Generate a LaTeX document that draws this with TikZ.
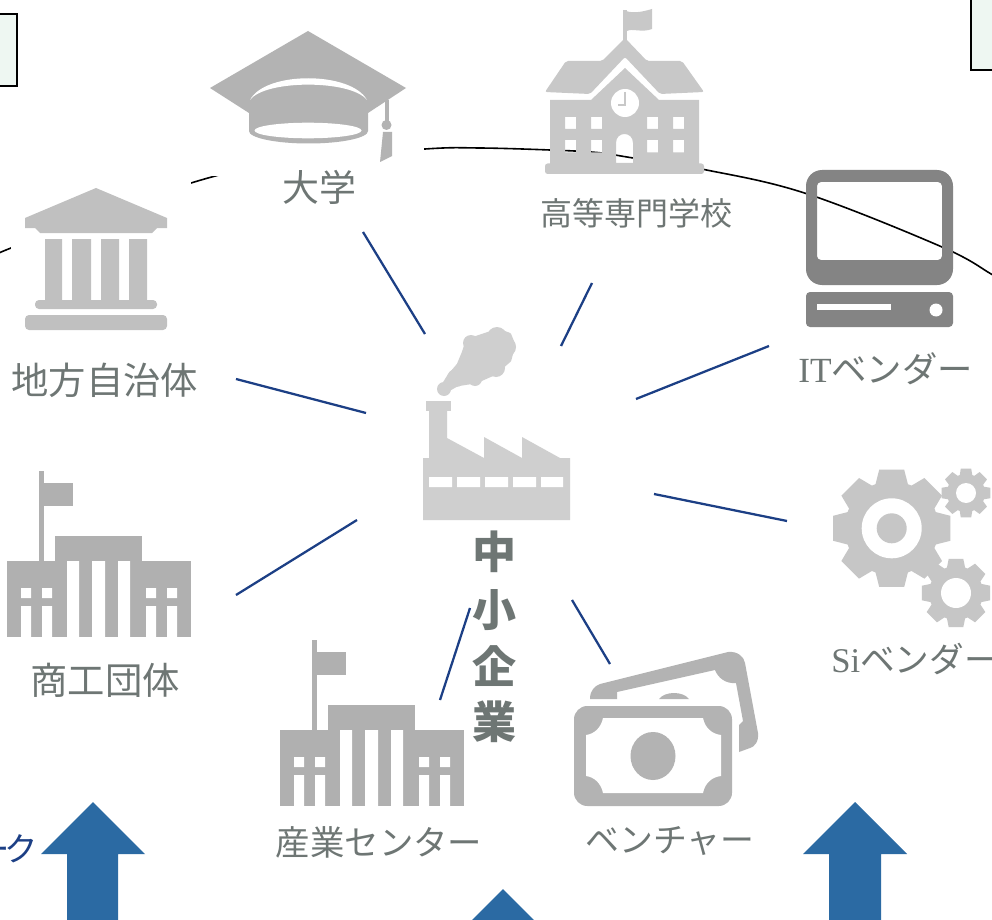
\documentclass[tikz,border=0pt]{standalone}
\usepackage{fontspec}
\newfontfamily\jp{Noto Sans CJK JP}
\newfontfamily\lat{Liberation Serif}
\definecolor{lbl}{HTML}{6E7674}
\definecolor{navy}{HTML}{1C3F85}
\definecolor{arrowblue}{HTML}{2B6AA3}
\definecolor{boxgreen}{HTML}{EEF7F2}
\definecolor{capgrey}{HTML}{B3B3B3}
\definecolor{bankgrey}{HTML}{C0C0C0}
\definecolor{schoolgrey}{HTML}{C8C8C8}
\definecolor{pcgrey}{HTML}{848484}
\definecolor{factgrey}{HTML}{CFCFCF}
\definecolor{geargrey}{HTML}{C6C6C6}
\definecolor{bldgrey}{HTML}{B0B0B0}
\newcommand{\pxfont}[1]{\jp\fontsize{#1}{#1}\selectfont}
\tikzset{
  lab/.style={text=lbl,inner sep=0pt,font=\pxfont{#1}},
  link/.style={draw=navy,line width=1.7pt},
  arc line/.style={draw=black,line width=1.2pt},
  upblock/.style={fill=arrowblue},
  cornerbox/.style={draw=black,fill=boxgreen,line width=1pt},
  mask/.style={fill=white}
}
\newcommand{\gearicon}[6]{%
 \begin{scope}[shift={(#1,#2)}]
  \fill[geargrey] (0,0) circle[radius=#3];
  \foreach \a in {0,45,...,315}
    \fill[geargrey] (\a-21:#3-1) -- (\a-12:#4) -- (\a+12:#4) -- (\a+21:#3-1) -- cycle;
  \fill[white] (0,0) circle[radius=#5];
  #6
 \end{scope}}
\newcommand{\civicicon}{%
  \fill[bldgrey] (39,471) rectangle (44,561);
  \fill[bldgrey] (44,483) rectangle (73,506);
  \fill[bldgrey] (55,536) rectangle (142,561);
  \fill[bldgrey] (7,561) rectangle (191,637);
  \fill[white] (67,561) rectangle (79,637) (92,561) rectangle (105,637) (118,561) rectangle (130,637);
  \fill[white] (21,588) rectangle (31,598) (42,588) rectangle (52,598) (146,588) rectangle (156,598) (167,588) rectangle (177,598);
  \fill[white] (21,606) rectangle (31,637) (42,606) rectangle (52,637) (146,606) rectangle (156,637) (167,606) rectangle (177,637);
}
\begin{document}
\begin{tikzpicture}[x=0.75pt,y=-0.75pt]
\useasboundingbox (0,0) rectangle (992,920);
\clip (0,0) rectangle (992,920);
\fill[white] (0,0) rectangle (992,920);

% corner boxes
\draw[cornerbox] (-5,14) rectangle (17,86);
\draw[cornerbox] (971,-5) rectangle (997,70);

% large arc
\draw[arc line] plot[smooth,tension=0.6] coordinates {(-12,262) (11,248) (191,183) (300,160) (425,149) (480,148) (550,150) (597,152.5) (630,157.5) (704,169.5) (806,193.5) (942,247) (992,274.5) (1010,285)};
\fill[mask] (11,180) rectangle (191,340);
\fill[mask] (197,14) rectangle (424,176);

% university cap
\fill[capgrey] (308,31) -- (406,88) -- (368,113) -- (368,131) arc[start angle=0,end angle=180,x radius=59.5,y radius=12.5] -- (249,113) -- (210,88) -- cycle;
\fill[white] (250,100) .. controls (265,71) and (351,71) .. (367,100) .. controls (351,79.5) and (265,79.5) .. (250,100) -- cycle;
\fill[white] (308,130.5) ellipse[x radius=53.5,y radius=7.8];
\fill[capgrey] (385,100) rectangle (389,125);
\fill[capgrey] (386.5,125) circle[radius=5];
\fill[capgrey] (383,132) -- (392,132) -- (392,156) -- (380,162) -- cycle;

% bank
\fill[bankgrey] (96,188) -- (167,218) -- (167,228) -- (157,228) -- (152,233) -- (40,233) -- (35,228) -- (25,228) -- (25,218) -- cycle;
\fill[bankgrey] (45,239) rectangle (62,300) (72,239) rectangle (91,300) (101,239) rectangle (119,300) (129,239) rectangle (147,300);
\fill[bankgrey,rounded corners=3] (35,300) rectangle (157,309);
\fill[bankgrey,rounded corners=3] (25,315) rectangle (167,330);

% school
\fill[schoolgrey] (623,10) rectangle (627,40);
\fill[schoolgrey] (623,10) .. controls (632,14) and (642,12) .. (652,9) -- (652,29) .. controls (642,33) and (632,28) .. (627,31) -- cycle;
\fill[schoolgrey,rounded corners=1.5] (625,38) -- (647,61) -- (682,61) -- (704,92) -- (660,94) -- (625,57) -- (590,94) -- (545,92) -- (566,61) -- (602,61) -- cycle;
\fill[schoolgrey,even odd rule] (625,68) -- (659,100) -- (699,100) -- (699,165) -- (550,165) -- (550,100) -- (591,100) -- cycle
  (565,117) rectangle (576,129) (591,117) rectangle (602,129) (647,117) rectangle (658,129) (673,117) rectangle (684,129)
  (565,140) rectangle (576,152.5) (591,140) rectangle (602,152.5) (647,140) rectangle (658,152.5) (673,140) rectangle (684,152.5)
  (616,163) -- (616,143) .. controls (616,131) and (633,131) .. (633,143) -- (633,163) -- cycle;
\fill[white] (625,103) circle[radius=14];
\draw[schoolgrey,line width=2pt] (625,92) -- (625,105) -- (618,105);
\fill[schoolgrey,rounded corners=2] (545,163.5) rectangle (704,174);

% computer
\fill[pcgrey,even odd rule] [rounded corners=12] (806,170) rectangle (953,285) [rounded corners=3] (817,182) rectangle (942,260);
\fill[pcgrey,rounded corners=3] (806,292) rectangle (953,327);
\fill[white] (817,304) rectangle (891,310);
\fill[white] (936,310) circle[radius=6.5];

% factory
\fill[factgrey] (426,401) rectangle (451,411);
\fill[factgrey] (429,411) -- (447,411) -- (447,438) -- (484,458) -- (484,437) -- (522,458) -- (522,437) -- (560,458) -- (570,458) -- (570,520) -- (423,520) -- (423,458) -- (429,458) -- cycle;
\fill[white] (429,477) rectangle (452,487) (457,477) rectangle (480,487) (485,477) rectangle (508,487) (513,477) rectangle (536,487) (541,477) rectangle (563,487);
\filldraw[draw=factgrey,fill=factgrey,line width=3.5pt,line join=round] (441,390) -- (449,377) -- (459,365) -- (464,353) -- (468,341) -- (483,336) -- (498,331) -- (509,335) -- (513,345) -- (509,360) -- (494,373) -- (476,381) -- (457,384) -- (443,392) -- cycle;
\fill[factgrey] (444,389) circle[radius=7] (456,378) circle[radius=9] (471,343) circle[radius=8] (497,337) circle[radius=10] (506,347) circle[radius=10] (496,368) circle[radius=9] (475,379) circle[radius=7];

% gears
\gearicon{891.7}{528.3}{47}{60}{30}{\fill[geargrey] (0,0) circle[radius=15];}
\gearicon{966}{493}{19}{25}{10}{}
\gearicon{956}{593}{27}{35}{15}{}

% civic buildings
\civicicon
\begin{scope}[shift={(273,169)}]\civicicon\end{scope}

% money
\fill[capgrey] (590,699) .. controls (590,690) and (595,686) .. (600,684) -- (728,652) .. controls (738,651) and (744,657) .. (745,663) -- (758,733) .. controls (759,742) and (754,747) .. (750,748) -- (739,752) -- (739,725) -- (743,721) -- (736,683) .. controls (726,684) and (718,678) .. (715,670) -- (617,692) -- (617,699) -- cycle;
\fill[capgrey] (659,699) .. controls (665,691) and (683,691) .. (689,699) -- cycle;
\fill[capgrey,rounded corners=10] (574,706) rectangle (732,806);
\fill[white] (603,718) -- (703,718) .. controls (705,728) and (712,734) .. (721,735) -- (721,776) .. controls (712,777) and (705,783) .. (703,793) -- (603,793) .. controls (601,783) and (594,777) .. (586,776) -- (586,735) .. controls (594,734) and (601,728) .. (603,718) -- cycle;
\fill[capgrey] (653,756) ellipse[x radius=22.5,y radius=24];

% labels
\node[lab=27.7] (univ) at (319.5,187) {大学};
\node[lab=28] (local) at (105,380) {地方自治体};
\node[lab=24] (kosen) at (636,213) {高等専門学校};
\node[lab=26.5,anchor=west] (it) at (798,369) {{\lat IT}ベンダー};
\node[lab=26,anchor=west] (si) at (831,659) {{\lat Si}ベンダー};
\node[lab=28] (shoko) at (105,680) {商工団体};
\node[lab=25.8] (sangyo) at (379,842) {産業センター};
\node[lab=25.4] (venture) at (670,841) {ベンチャー};
\node[lab=33,font=\pxfont{33}\bfseries] (c1) at (494,552) {中};
\node[lab=33,font=\pxfont{33}\bfseries] (c2) at (494,610) {小};
\node[lab=33,font=\pxfont{33}\bfseries] (c3) at (494,666) {企};
\node[lab=33,font=\pxfont{33}\bfseries] (c4) at (494,722) {業};
\node[text=navy,inner sep=0pt,font=\pxfont{25},anchor=east] (net) at (38,849) {ー\kern-4ptク};

% connectors
\coordinate (a1) at (363,232); \coordinate (a2) at (425,334);
\coordinate (b1) at (236,379); \coordinate (b2) at (366,413);
\coordinate (d1) at (592,283); \coordinate (d2) at (561,346);
\coordinate (e1) at (769,346); \coordinate (e2) at (636,399);
\coordinate (f1) at (787,521); \coordinate (f2) at (654,494);
\coordinate (g1) at (610,664); \coordinate (g2) at (572,600);
\coordinate (h1) at (440,700); \coordinate (h2) at (470,608);
\coordinate (i1) at (236,595); \coordinate (i2) at (357,520);
\foreach \p in {a,b,d,e,f,g,h,i} \draw[link] (\p1) -- (\p2);

% block arrows
\fill[upblock] (93,802) -- (145,854) -- (118,854) -- (118,925) -- (67,925) -- (67,854) -- (41,854) -- cycle;
\fill[upblock] (855,802) -- (907,854) -- (881,854) -- (881,925) -- (829,925) -- (829,854) -- (803,854) -- cycle;
\fill[upblock] (503,889) -- (540,926) -- (466,926) -- cycle;
\end{tikzpicture}
\end{document}
